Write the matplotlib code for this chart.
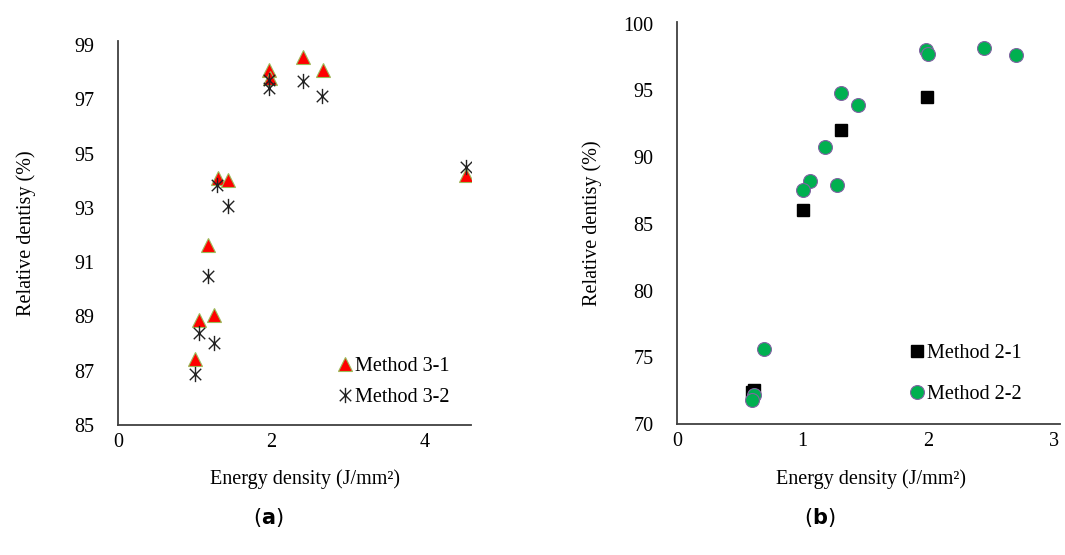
# Relative density vs energy density, two scatter panels (a) and (b)
import matplotlib
matplotlib.use("Agg")
import matplotlib.pyplot as plt
from matplotlib.path import Path

plt.rcParams['font.family'] = ['Liberation Serif', 'DejaVu Serif']

# Panel (a) data
x31 = [1.97, 1.99, 2.42, 2.68, 1.30, 1.43, 1.18, 1.06, 1.26, 1.00, 4.54]
y31 = [98.09, 97.78, 98.55, 98.09, 94.11, 94.04, 91.65, 88.86, 89.04, 87.43, 94.23]
x32 = [1.97, 1.97, 2.42, 2.66, 1.29, 1.43, 1.18, 1.06, 1.26, 1.00, 4.54]
y32 = [97.72, 97.42, 97.69, 97.11, 93.86, 93.06, 90.49, 88.38, 88.04, 86.88, 94.51]

# Panel (b) data
x21 = [1.005, 1.305, 1.986, 0.615, 0.60]
y21 = [86.0, 91.99, 94.53, 72.54, 72.4]
x22 = [1.98, 2.00, 2.44, 2.70, 1.305, 1.44, 1.18, 1.06, 1.00, 1.27, 0.69, 0.615, 0.594]
y22 = [98.02, 97.73, 98.18, 97.65, 94.78, 93.91, 90.74, 88.17, 87.50, 87.88, 75.61, 72.17, 71.80]

ticks_a_x = [0, 2, 4]
ticks_a_y = [85, 87, 89, 91, 93, 95, 97, 99]
ticks_b_x = [0, 1, 2, 3]
ticks_b_y = [70, 75, 80, 85, 90, 95, 100]

# asterisk marker: vertical line plus an X
star = Path([(0, -1), (0, 1), (-0.75, -0.75), (0.75, 0.75), (-0.75, 0.75), (0.75, -0.75)],
            [Path.MOVETO, Path.LINETO, Path.MOVETO, Path.LINETO, Path.MOVETO, Path.LINETO])

fig = plt.figure(figsize=(10.65, 5.55), dpi=100)
ax1 = fig.add_axes([0.1108, 0.2342, 0.3315, 0.6918])
ax2 = fig.add_axes([0.6357, 0.2360, 0.3600, 0.7240])

fs = 14.5

# --- panel (a)
ax1.plot(x32, y32, linestyle='none', marker=star, markersize=11, markeredgecolor='#222222',
         markeredgewidth=1.0, label='Method 3-2', zorder=3)
ax1.plot(x31, y31, linestyle='none', marker='^', markersize=10, markerfacecolor='#ff0000',
         markeredgecolor='#9bbb59', markeredgewidth=0.8, label='Method 3-1', zorder=2)
ax1.set_xlim(0, 4.61)
ax1.set_ylim(85, 99.15)
ax1.set_xticks(ticks_a_x)
ax1.set_yticks(ticks_a_y)
ax1.set_xlabel('Energy density (J/mm²)', fontsize=fs)
ax1.set_ylabel('Relative dentisy (%)', fontsize=fs)
ax1.xaxis.set_label_coords(0.53, -0.114)
ax1.yaxis.set_label_coords(-0.232, 0.5)
h, l = ax1.get_legend_handles_labels()
ax1.legend(h[::-1], l[::-1], loc='lower right', bbox_to_anchor=(0.99, 0.0), frameon=False,
           fontsize=fs, handlelength=0.7, handletextpad=0.15, labelspacing=0.6)

# --- panel (b)
ax2.plot(x21, y21, linestyle='none', marker='s', markersize=9, color='black', label='Method 2-1')
ax2.plot(x22, y22, linestyle='none', marker='o', markersize=10, markerfacecolor='#00b050',
         markeredgecolor='#8064a2', markeredgewidth=0.8, label='Method 2-2')
ax2.set_xlim(0, 3.05)
ax2.set_ylim(70, 100.1)
ax2.set_xticks(ticks_b_x)
ax2.set_yticks(ticks_b_y)
ax2.set_xlabel('Energy density (J/mm²)', fontsize=fs)
ax2.set_ylabel('Relative dentisy (%)', fontsize=fs)
ax2.xaxis.set_label_coords(0.507, -0.112)
ax2.yaxis.set_label_coords(-0.196, 0.5)
ax2.legend(loc='lower right', bbox_to_anchor=(0.945, 0.005), frameon=False,
           fontsize=fs, handlelength=0.7, handletextpad=0.15, labelspacing=1.1)

for ax in (ax1, ax2):
    for s in ('top', 'right'):
        ax.spines[s].set_visible(False)
    for s in ('left', 'bottom'):
        ax.spines[s].set_color('#404040')
        ax.spines[s].set_linewidth(1.3)
    ax.tick_params(length=0, labelsize=fs)
    ax.tick_params(axis='y', pad=17)
    ax.tick_params(axis='x', pad=6)
    ax.patch.set_alpha(0)

fig.text(0.2516, 0.068, r'($\mathbf{a}$)', ha='center', va='center', fontsize=15,
         family='DejaVu Sans')
fig.text(0.7700, 0.068, r'($\mathbf{b}$)', ha='center', va='center', fontsize=15,
         family='DejaVu Sans')

fig.savefig('out.png', dpi=100)
